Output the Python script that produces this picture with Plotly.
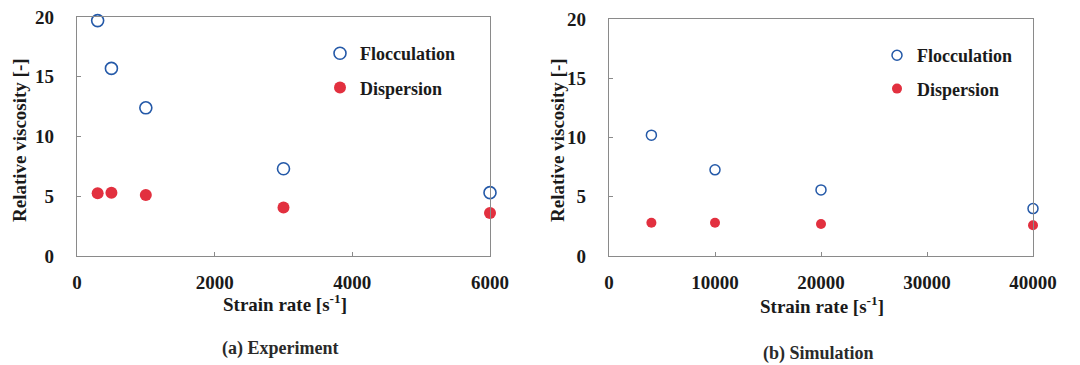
import plotly.graph_objects as go

# Data (a) Experiment
exp_rate = [300, 500, 1000, 3000, 6000]
exp_floc = [19.7, 15.7, 12.4, 7.3, 5.3]
exp_disp = [5.25, 5.3, 5.1, 4.05, 3.6]

# Data (b) Simulation
sim_rate = [4000, 10000, 20000, 40000]
sim_floc = [10.2, 7.27, 5.58, 4.0]
sim_disp = [2.8, 2.8, 2.7, 2.6]

exp_xticks = [0, 2000, 4000, 6000]
sim_xticks = [0, 10000, 20000, 30000, 40000]
yticks = [0, 5, 10, 15, 20]

BLUE = "#2459a8"
RED = "#e2303f"
FONT = "Liberation Serif"
W, H = 1080, 365

fig = go.Figure()

def px(x):
    return x / W

def py(y):
    return 1 - y / H

fig.add_trace(go.Scatter(x=exp_rate, y=exp_floc, mode="markers", name="Flocculation",
                         marker=dict(symbol="circle-open", size=12, color=BLUE, line=dict(width=1.6, color=BLUE)),
                         xaxis="x", yaxis="y", legend="legend", legendgroup="a1", cliponaxis=False))
fig.add_trace(go.Scatter(x=exp_rate, y=exp_disp, mode="markers", name="Dispersion",
                         marker=dict(symbol="circle", size=12, color=RED),
                         xaxis="x", yaxis="y", legend="legend", legendgroup="a2", cliponaxis=False))
fig.add_trace(go.Scatter(x=sim_rate, y=sim_floc, mode="markers", name="Flocculation",
                         marker=dict(symbol="circle-open", size=10, color=BLUE, line=dict(width=1.5, color=BLUE)),
                         xaxis="x2", yaxis="y2", legend="legend2", legendgroup="b1", cliponaxis=False))
fig.add_trace(go.Scatter(x=sim_rate, y=sim_disp, mode="markers", name="Dispersion",
                         marker=dict(symbol="circle", size=10, color=RED),
                         xaxis="x2", yaxis="y2", legend="legend2", legendgroup="b2", cliponaxis=False))

axis_common = dict(showline=True, linecolor="#8a8a8a", linewidth=1.2, mirror=True, automargin=False,
                   ticks="inside", ticklen=4, tickcolor="#8a8a8a", showgrid=False, zeroline=False,
                   tickformat="d",
                   tickfont=dict(family=FONT, size=19, color="#1a1a1a", weight="bold"))

fig.update_layout(
    width=W, height=H, margin=dict(l=0, r=0, t=0, b=0),
    paper_bgcolor="white", plot_bgcolor="white",
    xaxis=dict(domain=[px(77), px(490)], range=[0, 6000], tickvals=exp_xticks,
               ticklabelstandoff=9, anchor="y", **axis_common),
    yaxis=dict(domain=[py(256), py(17)], range=[0, 20], tickvals=yticks,
               ticklabelstandoff=18, anchor="x", **axis_common),
    xaxis2=dict(domain=[px(609), px(1033)], range=[0, 40000], tickvals=sim_xticks,
                ticklabelstandoff=9, anchor="y2", **axis_common),
    yaxis2=dict(domain=[py(256), py(19)], range=[0, 20], tickvals=yticks,
                ticklabelstandoff=18, anchor="x2", **axis_common),
    legend=dict(x=px(320), y=py(35), xanchor="left", yanchor="top", bgcolor="rgba(0,0,0,0)",
                font=dict(family=FONT, size=18, color="#1a1a1a", weight="bold"),
                tracegroupgap=8, traceorder="grouped", itemwidth=30),
    legend2=dict(x=px(877), y=py(37), xanchor="left", yanchor="top", bgcolor="rgba(0,0,0,0)",
                 font=dict(family=FONT, size=18, color="#1a1a1a", weight="bold"),
                 tracegroupgap=7, traceorder="grouped", itemwidth=30),
)

ann_font = dict(family=FONT, size=19, color="#1a1a1a", weight="bold")
annotations = [
    dict(text="Strain rate [s<sup>-1</sup>]", x=px(285), y=py(303), xref="paper", yref="paper",
         showarrow=False, font=ann_font, xanchor="center", yanchor="middle"),
    dict(text="Strain rate [s<sup>-1</sup>]", x=px(822), y=py(305), xref="paper", yref="paper",
         showarrow=False, font=ann_font, xanchor="center", yanchor="middle"),
    dict(text="Relative viscosity [-]", x=px(19), y=py(140), xref="paper", yref="paper",
         showarrow=False, font=ann_font, textangle=-90, xanchor="center", yanchor="middle"),
    dict(text="Relative viscosity [-]", x=px(557), y=py(140), xref="paper", yref="paper",
         showarrow=False, font=ann_font, textangle=-90, xanchor="center", yanchor="middle"),
    dict(text="(a) Experiment", x=px(280), y=py(348), xref="paper", yref="paper",
         showarrow=False, font=dict(family=FONT, size=18, color="#2a2a2a", weight="bold"),
         xanchor="center", yanchor="middle"),
    dict(text="(b) Simulation", x=px(818), y=py(353), xref="paper", yref="paper",
         showarrow=False, font=dict(family=FONT, size=18, color="#2a2a2a", weight="bold"),
         xanchor="center", yanchor="middle"),
]
fig.update_layout(annotations=annotations)

fig.write_html("out.html")
